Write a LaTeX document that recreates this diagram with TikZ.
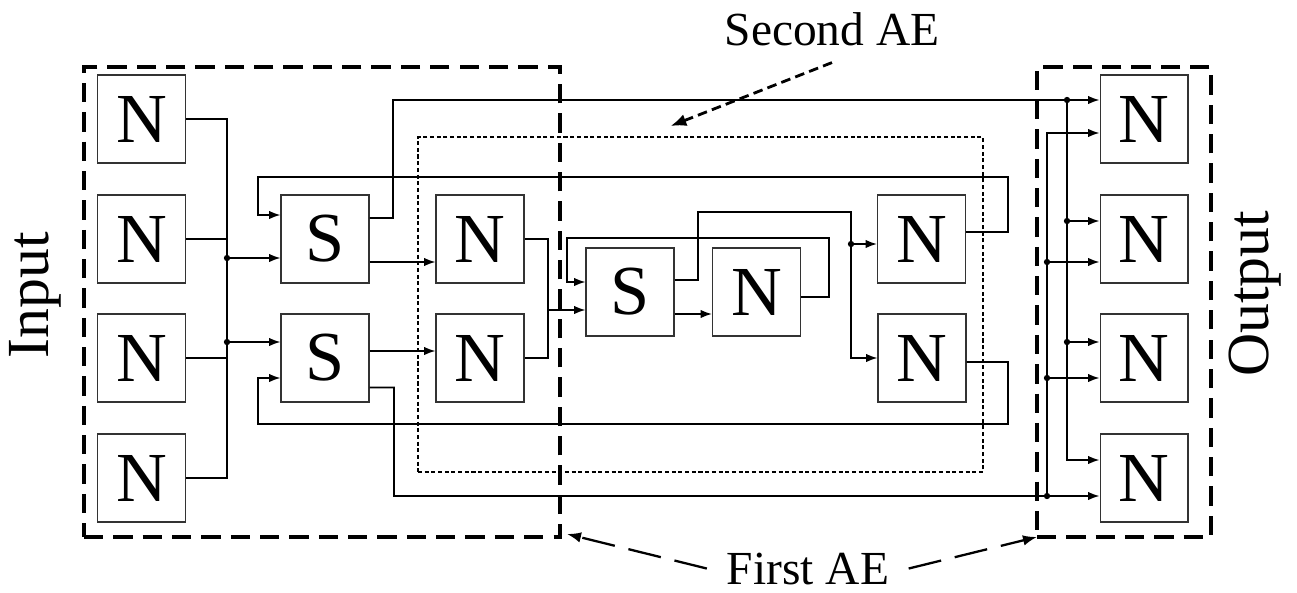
\documentclass[tikz,border=0pt]{standalone}
\usepackage{fontspec}
\setmainfont{Liberation Serif}
\usetikzlibrary{arrows.meta, positioning, calc}

\tikzset{
  unit/.style={draw=black!80, fill=white, line width=0.6pt, minimum width=1.76cm, minimum height=1.76cm, inner sep=0pt, font=\fontsize{40}{40}\selectfont},
  wire/.style={line width=0.9pt},
  arr/.style={wire, -{Latex[length=6.5pt,width=4.8pt]}},
  aebox/.style={draw, line width=1.8pt, dash pattern=on 11pt off 5.7pt, inner sep=0pt, outer sep=0pt},
  innerbox/.style={draw, line width=0.7pt, dash pattern=on 2.3pt off 1.5pt, inner sep=0pt, outer sep=0pt},
  aearrow/.style={line width=1.6pt, dash pattern=on 5.5pt off 3pt, -{Latex[length=9pt,width=7pt]}},
  aearrowlong/.style={line width=1.3pt, dash pattern=on 19pt off 8pt, -{Latex[length=8pt,width=6pt]}},
  lbl/.style={font=\fontsize{27}{27}\selectfont, inner sep=1pt},
  side/.style={font=\fontsize{34}{34}\selectfont, rotate=90}
}

\begin{document}
\begin{tikzpicture}[x=0.02cm, y=-0.02cm]
\useasboundingbox (0,0) rectangle (1297,592);

% autoencoder frames
\node[aebox, minimum width=9.52cm, minimum height=9.4cm] (firstL) at (322,302) {};
\node[aebox, minimum width=3.48cm, minimum height=9.4cm] (firstR) at (1124,302) {};
\node[innerbox, minimum width=11.3cm, minimum height=6.7cm] (second) at (700.5,304.5) {};

% units
\foreach \i/\y in {1/119,2/239,3/358,4/478} {
  \node[unit] (in\i) at (141.5,\y) {N};
  \node[unit] (out\i) at (1144,\y) {N};
}
\node[unit] (s1) at (325,239) {S};
\node[unit] (s2) at (325,358) {S};
\node[unit] (h1) at (480,239) {N};
\node[unit] (h2) at (480,358) {N};
\node[unit] (cs) at (630,292) {S};
\node[unit] (cn) at (756.5,292) {N};
\node[unit] (r1) at (921.5,239) {N};
\node[unit] (r2) at (922,358) {N};

% input bus
\coordinate (ibus) at (227,119);
\draw[wire] (in1.east) -- (ibus) |- (in4.east);
\draw[wire] (in2.east) -- (in2.east -| ibus);
\draw[wire] (in3.east) -- (in3.east -| ibus);
\foreach \j/\y in {1/258,2/342} {
  \coordinate (j\j) at (227,\y);
  \fill (j\j) circle (1.8pt);
  \draw[arr] (j\j) -- (j\j -| s\j.west);
}

% first hidden layer
\draw[arr] ([yshift=-.46cm]s1.east) -- ([yshift=-.46cm]h1.west);
\draw[arr] ([yshift=.14cm]s2.east) -- ([yshift=.14cm]h2.west);

% skip to output, upper bus
\coordinate (obus) at (1067,100);
\draw[arr] ([yshift=.42cm]s1.east) -| (393,100) -- ([yshift=.38cm]out1.west);
\fill (obus) circle (1.8pt);
\draw[arr] (obus) |- ([yshift=.36cm]out4.west);
\foreach \o/\s in {out2/.36,out3/.32} {
  \path ([yshift=\s cm]\o.west) coordinate (t);
  \fill (t -| obus) circle (1.8pt);
  \draw[arr] (t -| obus) -- (t);
}

% skip to output, lower bus
\coordinate (lbus) at (1047,496);
\draw[arr] ([yshift=-.59cm]s2.east) -| (394,496) -- ([yshift=-.36cm]out4.west);
\fill (lbus) circle (1.8pt);
\draw[arr] (lbus) |- ([yshift=-.28cm]out1.west);
\foreach \o/\s in {out2/-.46,out3/-.40} {
  \path ([yshift=\s cm]\o.west) coordinate (t);
  \fill (t -| lbus) circle (1.8pt);
  \draw[arr] (t -| lbus) -- (t);
}

% second autoencoder core
\coordinate (hj) at (548,310);
\draw[wire] (h1.east) -| (hj) |- (h2.east);
\draw[arr] (hj) -- (hj -| cs.west);
\draw[arr] ([yshift=-.1cm]cn.east) -| (829,238) -| (567,282) -- ([yshift=.2cm]cs.west);
\draw[arr] ([yshift=-.44cm]cs.east) -- ([yshift=-.44cm]cn.west);
\coordinate (cj) at (851,244);
\draw[arr] ([yshift=.24cm]cs.east) -| (698,212) -| (cj) |- (r2.west);
\fill (cj) circle (1.8pt);
\draw[arr] (cj) -- (cj -| r1.west);

% feedback to the S units
\draw[arr] ([yshift=.14cm]r1.east) -| (1008,177) -| (258,215) -- ([yshift=.48cm]s1.west);
\draw[arr] ([yshift=-.08cm]r2.east) -| (1008,424) -| (258,378) -- ([yshift=-.4cm]s2.west);

% labels
\node[side] (inlbl) at (35,295) {Input};
\node[side] (outlbl) at (1255,294) {Output};
\node[lbl, anchor=base] (secondlbl) at (832,45) {Second AE};
\node[lbl, anchor=base] (firstlbl) at (808,584) {First AE};
\draw[aearrow] ([yshift=-.3cm]secondlbl.south) -- ([xshift=-.6cm,yshift=.22cm]second.north);
\draw[aearrowlong] ([xshift=-.36cm]firstlbl.west) -- ([xshift=.14cm,yshift=.06cm]firstL.south east);
\draw[aearrowlong] ([xshift=.35cm]firstlbl.east) -- (firstR.south west);
\end{tikzpicture}
\end{document}
